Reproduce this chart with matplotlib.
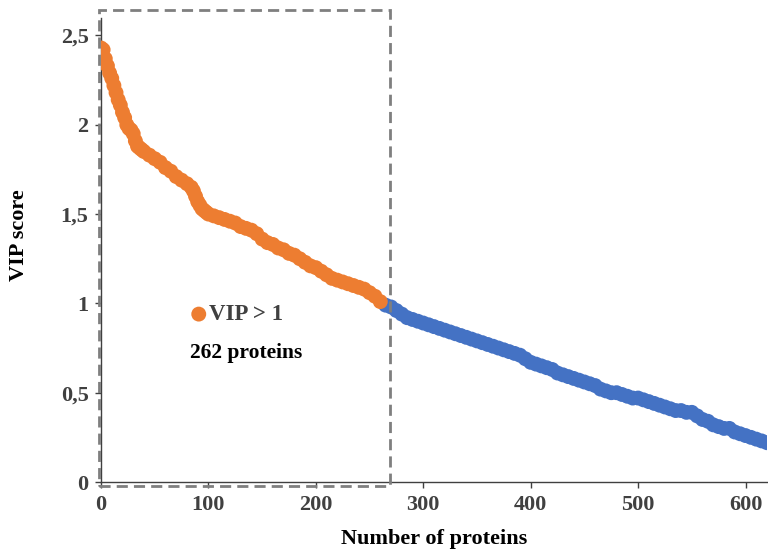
import matplotlib
matplotlib.use("Agg")
import matplotlib.pyplot as plt
from matplotlib.patches import Rectangle
from matplotlib.ticker import FuncFormatter

plt.rcParams['font.family'] = ['Liberation Serif', 'DejaVu Serif']

# Rank (protein index) and VIP score
ranks = [0, 2, 4, 6, 8, 10, 12, 14, 16, 18, 20, 22, 24, 26, 28, 30, 32, 34, 36, 38,
         40, 45, 50, 55, 60, 65, 70, 75, 80, 84, 86, 88, 90, 92, 94, 96, 98, 100,
         105, 110, 115, 120, 125, 130, 135, 140, 145, 150, 155, 160, 165, 170, 175,
         180, 185, 190, 195, 200, 205, 210, 215, 220, 225, 230, 235, 240, 245, 250,
         255, 260,
         265, 270, 275, 280, 285, 290, 295, 300, 305, 310, 315, 320, 325, 330, 335,
         340, 345, 350, 355, 360, 365, 370, 375, 380, 385, 390, 395, 400, 405, 410,
         415, 420, 425, 430, 435, 440, 445, 450, 455, 460, 465, 470, 475, 480, 485,
         490, 495, 500, 505, 510, 515, 520, 525, 530, 535, 540, 545, 550, 555, 560,
         565, 570, 575, 580, 585, 590, 595, 600, 605, 610, 615, 620, 625]
vip = [2.43, 2.42, 2.37, 2.33, 2.29, 2.26, 2.22, 2.18, 2.14, 2.11, 2.07, 2.04, 2.00,
       1.98, 1.97, 1.95, 1.91, 1.88, 1.87, 1.86, 1.85, 1.83, 1.81, 1.79, 1.76, 1.74,
       1.71, 1.69, 1.67, 1.65, 1.63, 1.60, 1.57, 1.55, 1.53, 1.52, 1.51, 1.50,
       1.49, 1.48, 1.47, 1.46, 1.45, 1.43, 1.42, 1.41, 1.39, 1.36, 1.34, 1.33, 1.31,
       1.30, 1.28, 1.27, 1.25, 1.23, 1.21, 1.20, 1.18, 1.16, 1.14, 1.13, 1.12, 1.11,
       1.10, 1.09, 1.08, 1.06, 1.04, 1.01,
       0.99, 0.98, 0.96, 0.94, 0.92, 0.91, 0.90, 0.89, 0.88, 0.87, 0.86, 0.85, 0.84,
       0.83, 0.82, 0.81, 0.80, 0.79, 0.78, 0.77, 0.76, 0.75, 0.74, 0.73, 0.72, 0.71,
       0.69, 0.67, 0.66, 0.65, 0.64, 0.63, 0.61, 0.60, 0.59, 0.58, 0.57, 0.56, 0.55,
       0.54, 0.52, 0.51, 0.50, 0.50, 0.49, 0.48, 0.47, 0.47, 0.46, 0.45, 0.44, 0.43,
       0.42, 0.41, 0.40, 0.40, 0.39, 0.39, 0.37, 0.35, 0.34, 0.32, 0.31, 0.30, 0.30,
       0.28, 0.27, 0.26, 0.25, 0.24, 0.23, 0.22, 0.21]
n_selected = 262
xticks = [0, 100, 200, 300, 400, 500, 600]
yticks = [0, 0.5, 1, 1.5, 2, 2.5]

orange = '#ED7D31'
blue = '#4472C4'
msize = 115

fig = plt.figure(figsize=(7.68, 5.55), dpi=100)
ax = fig.add_axes([101/768, 73/555, 666/768, 464.4/555])

blue_x = [r for r in ranks if r > n_selected]
blue_y = [v for r, v in zip(ranks, vip) if r > n_selected]
or_x = [r for r in ranks if r <= n_selected]
or_y = [v for r, v in zip(ranks, vip) if r <= n_selected]

ax.scatter(blue_x, blue_y, s=msize, color=blue, edgecolors='none', zorder=3)
ax.scatter(or_x, or_y, s=msize, color=orange, edgecolors='none', zorder=4)

ax.set_xlim(0, 620)
ax.set_ylim(0, 2.6)
ax.set_xticks(xticks)
ax.set_yticks(yticks)
ax.yaxis.set_major_formatter(FuncFormatter(lambda v, p: f"{v:g}".replace('.', ',')))

for s in ['top', 'right']:
    ax.spines[s].set_visible(False)
for s in ['left', 'bottom']:
    ax.spines[s].set_color('#404040')
    ax.spines[s].set_linewidth(1.0)

ax.tick_params(axis='both', direction='out', length=4, width=1, color='#404040',
               labelsize=16, labelcolor='#404040', pad=5)
for lab in ax.get_xticklabels() + ax.get_yticklabels():
    lab.set_fontweight('bold')

ax.set_xlabel('Number of proteins', fontsize=16, fontweight='bold')
ax.set_ylabel('VIP score', fontsize=16, fontweight='bold')
ax.xaxis.set_label_coords(0.5, -0.102)
ax.yaxis.set_label_coords(-0.108, 0.532)

rect = Rectangle((-2, -0.022), 271, 2.662, fill=False, edgecolor='#7F7F7F',
                 linewidth=2.0, linestyle=(0, (4, 2.2)), clip_on=False, zorder=5)
ax.add_patch(rect)

ax.scatter([91], [0.94], s=msize, color=orange, edgecolors='none', zorder=4)
ax.text(101, 0.94, 'VIP > 1', fontsize=16.5, fontweight='bold', color='#404040',
        va='center', ha='left')
ax.text(83, 0.725, '262 proteins', fontsize=15.5, fontweight='bold', color='black',
        va='center', ha='left')

fig.savefig('out.png', dpi=100)
